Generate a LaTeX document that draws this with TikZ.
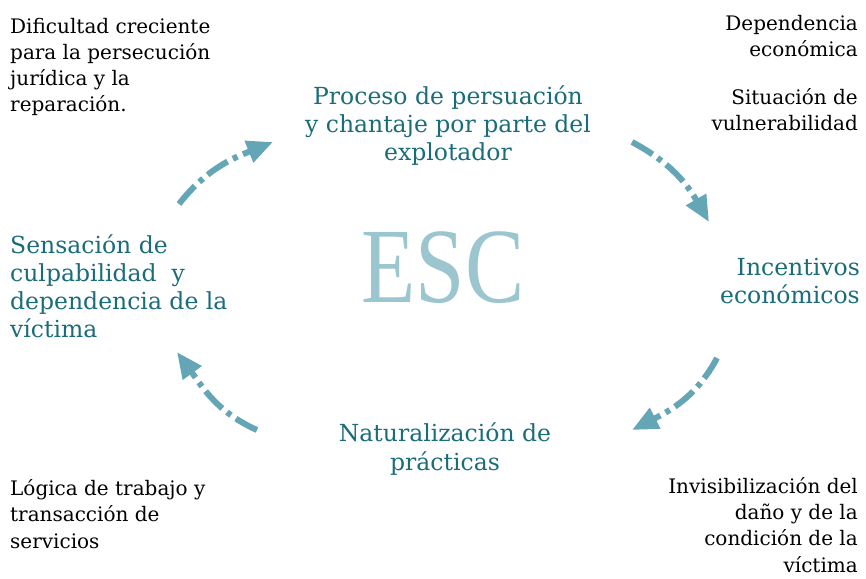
\documentclass[tikz,border=0pt]{standalone}
\usepackage{fontspec}
\setmainfont{DejaVu Serif}
\newfontfamily\escfont{Liberation Serif}
\usetikzlibrary{arrows.meta}
\definecolor{tealtext}{HTML}{1B6C79}
\definecolor{tealarrow}{HTML}{64A6B5}
\definecolor{tealesc}{HTML}{9CC6CF}

\begin{document}
\begin{tikzpicture}[x=1pt,y=1pt,
    causa/.style={font=\fontsize{20}{26.3}\selectfont, inner sep=0pt},
    etapa/.style={font=\fontsize{23.5}{28}\selectfont, text=tealtext, inner sep=0pt},
    ciclo/.style={line width=6pt, draw=tealarrow, dash pattern=on 24pt off 6pt on 5pt off 6pt,
      -{Triangle[length=26pt,width=22pt,fill=tealarrow]}}]
  \useasboundingbox (0,0) rectangle (866,578);

  % centro
  \node[anchor=base, text=tealesc, inner sep=0pt, font=\escfont\fontsize{107}{107}\selectfont]
    (esc) at (443,275) {\scalebox{0.83}[1]{ESC}};

  % etapas del ciclo (base = ultima linea)
  \node[etapa, anchor=base, align=center] (persuasion) at (448,417)
    {Proceso de persuación\\y chantaje por parte del\\explotador};
  \node[etapa, anchor=base east, align=right] (incentivos) at (860,274)
    {Incentivos\\económicos};
  \node[etapa, anchor=base, align=center] (naturalizacion) at (445,108)
    {Naturalización de\\prácticas};
  \node[etapa, anchor=base west, align=left] (culpa) at (10,240)
    {Sensación de\\culpabilidad~~y\\dependencia de la\\víctima};

  % factores
  \node[causa, anchor=base west, align=left] (dificultad) at (10,466)
    {Dificultad creciente\\para la persecución\\jurídica y la\\reparación.};
  \node[causa, anchor=base east, align=right] (dependencia) at (858,521)
    {Dependencia\\económica};
  \node[causa, anchor=base east, align=right] (vulnerable) at (858,447)
    {Situación de\\vulnerabilidad};
  \node[causa, anchor=base west, align=left] (logica) at (10,30)
    {Lógica de trabajo y\\transacción de\\servicios};
  \node[causa, anchor=base east, align=right] (invisible) at (858,6)
    {Invisibilización del\\daño y de la\\condición de la\\víctima};

  % extremos de las flechas
  \coordinate (c1a) at (179,374);
  \coordinate (c1b) at (273,436);
  \coordinate (c2a) at (632,436);
  \coordinate (c2b) at (709,356);
  \coordinate (c3a) at (717,220);
  \coordinate (c3b) at (632,148);
  \coordinate (c4a) at (257,148);
  \coordinate (c4b) at (177,226);

  % flechas
  \draw[ciclo] (c1a) to[out=52,in=202] (c1b);
  \draw[ciclo] (c2a) to[out=-28,in=120] (c2b);
  \draw[ciclo] (c3a) to[out=242,in=27] (c3b);
  \draw[ciclo] (c4a) to[out=156,in=-54] (c4b);
\end{tikzpicture}
\end{document}
